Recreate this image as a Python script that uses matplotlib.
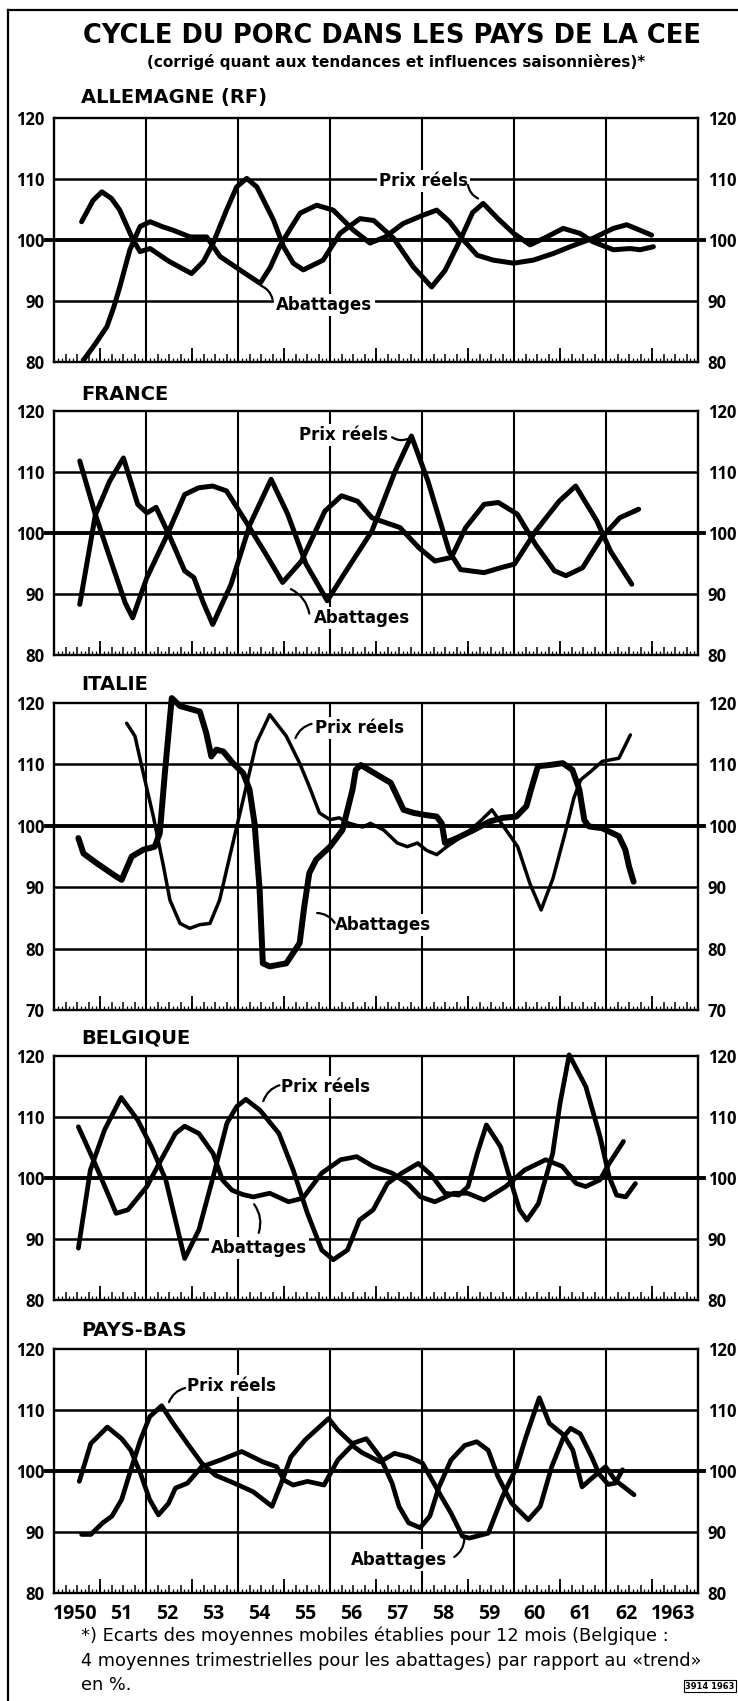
import matplotlib
matplotlib.use("Agg")
import matplotlib.pyplot as plt
from matplotlib.ticker import MultipleLocator
from matplotlib.lines import Line2D

W, H = 738, 1701

# ---- data (index, trend = 100) ----
# ALLEMAGNE (RF)
de_prix_x = [1950.60, 1950.85, 1951.04, 1951.25, 1951.43, 1951.72, 1951.87, 1952.09, 1952.5, 1952.99,
             1953.25, 1953.46, 1953.75, 1953.97, 1954.19, 1954.41, 1954.77, 1954.99, 1955.2, 1955.42,
             1955.85, 1956.22, 1956.65, 1956.95, 1957.38, 1957.81, 1958.21, 1958.5, 1958.83, 1959.1,
             1959.33, 1959.65, 1959.99, 1960.35, 1960.71, 1961.07, 1961.43, 1961.72, 1962.16, 1962.52,
             1962.74, 1963.03]
de_prix_y = [103.0, 106.5, 107.9, 106.8, 104.9, 100.0, 98.1, 98.6, 96.5, 94.5,
             96.5, 99.5, 104.9, 108.7, 110.1, 108.7, 103.3, 98.9, 96.2, 95.1,
             96.7, 101.1, 103.5, 103.2, 100.3, 95.6, 92.3, 95.0, 100.0, 104.5,
             106.0, 103.5, 101.1, 99.2, 100.5, 101.9, 101.1, 99.7, 98.4, 98.6,
             98.4, 98.9]
de_abat_x = [1950.64, 1950.9, 1951.15, 1951.3, 1951.43, 1951.65, 1951.87, 1952.09, 1952.35, 1952.59,
             1952.96, 1953.32, 1953.61, 1954.04, 1954.48, 1954.7, 1954.91, 1955.15, 1955.35, 1955.71,
             1956.07, 1956.51, 1956.87, 1957.2, 1957.59, 1958.0, 1958.32, 1958.6, 1958.9, 1959.2,
             1959.55, 1959.99, 1960.42, 1960.86, 1961.22, 1961.72, 1962.16, 1962.45, 1962.74, 1962.99]
de_abat_y = [80.3, 83.0, 85.8, 89.0, 92.3, 98.4, 102.2, 103.0, 102.2, 101.6,
             100.5, 100.5, 97.3, 95.1, 92.9, 95.5, 99.0, 102.0, 104.4, 105.7,
             104.9, 101.6, 99.5, 100.5, 102.7, 104.0, 104.9, 103.0, 100.0, 97.5,
             96.7, 96.2, 96.7, 97.8, 98.9, 100.3, 101.9, 102.5, 101.6, 100.8]

# FRANCE
fr_prix_x = [1950.56, 1950.9, 1951.21, 1951.51, 1951.82, 1952.02, 1952.22, 1952.53, 1952.84, 1953.04,
             1953.25, 1953.45, 1953.85, 1954.26, 1954.72, 1955.08, 1955.48, 1955.94, 1956.3, 1956.91,
             1957.42, 1957.77, 1958.13, 1958.59, 1958.84, 1959.35, 1959.71, 1960.01, 1960.47, 1960.98,
             1961.34, 1961.8, 1962.1, 1962.56]
fr_prix_y = [88.3, 103.0, 108.5, 112.3, 104.7, 103.3, 104.2, 99.2, 93.8, 92.7,
             88.5, 85.0, 91.6, 101.4, 108.8, 103.1, 94.9, 88.9, 93.2, 100.3,
             110.2, 115.9, 108.5, 97.0, 94.0, 93.5, 94.3, 94.9, 100.3, 105.2,
             107.7, 102.0, 97.0, 91.6]
fr_abat_x = [1950.56, 1950.9, 1951.31, 1951.55, 1951.71, 1952.02, 1952.43, 1952.84, 1953.14, 1953.45,
             1953.75, 1954.16, 1954.57, 1954.97, 1955.38, 1955.89, 1956.25, 1956.6, 1956.91, 1957.21,
             1957.52, 1957.93, 1958.28, 1958.64, 1958.95, 1959.35, 1959.66, 1960.07, 1960.47, 1960.88,
             1961.13, 1961.49, 1961.9, 1962.3, 1962.71]
fr_abat_y = [111.8, 103.0, 93.8, 88.5, 86.1, 92.7, 99.2, 106.3, 107.4, 107.7,
             106.9, 102.0, 97.0, 91.9, 95.4, 103.6, 106.1, 105.2, 102.5, 101.7,
             100.9, 97.6, 95.4, 96.0, 100.9, 104.7, 105.0, 103.1, 98.1, 93.8,
             93.0, 94.3, 99.2, 102.5, 103.9]

# ITALIE
it_prix_x = [1951.58, 1951.76, 1951.94, 1952.16, 1952.38, 1952.52, 1952.74, 1952.95, 1953.17, 1953.39,
             1953.6, 1953.82, 1954.11, 1954.4, 1954.69, 1955.05, 1955.34, 1955.55, 1955.77, 1956.0,
             1956.2, 1956.42, 1956.71, 1956.88, 1957.17, 1957.46, 1957.68, 1957.9, 1958.1, 1958.32,
             1958.54, 1958.97, 1959.26, 1959.52, 1960.08, 1960.35, 1960.59, 1960.85, 1961.1, 1961.3,
             1961.45, 1961.63, 1961.92, 1962.28, 1962.53]
it_prix_y = [116.7, 114.6, 108.6, 101.5, 93.4, 87.9, 84.1, 83.3, 83.9, 84.1,
             87.9, 95.0, 104.2, 113.5, 118.1, 114.6, 110.2, 106.4, 102.1, 101.0,
             101.3, 100.4, 99.8, 100.4, 99.3, 97.2, 96.6, 97.2, 96.0, 95.3,
             96.6, 98.8, 100.7, 102.6, 96.6, 90.5, 86.3, 91.5, 98.5, 104.5,
             107.5, 108.6, 110.5, 111.0, 114.8]
it_abat_x = [1950.53, 1950.64, 1950.93, 1951.36, 1951.47, 1951.69, 1951.94, 1952.19, 1952.3, 1952.41,
             1952.56, 1952.74, 1953.17, 1953.31, 1953.42, 1953.53, 1953.68, 1953.89, 1954.11, 1954.25,
             1954.36, 1954.47, 1954.54, 1954.69, 1955.05, 1955.34, 1955.44, 1955.55, 1955.7, 1956.0,
             1956.27, 1956.49, 1956.56, 1956.67, 1956.96, 1957.32, 1957.46, 1957.6, 1957.82, 1958.04,
             1958.32, 1958.43, 1958.5, 1958.76, 1959.12, 1959.47, 1959.76, 1960.05, 1960.27, 1960.37,
             1960.52, 1960.77, 1961.06, 1961.27, 1961.42, 1961.53, 1961.63, 1961.92, 1962.28, 1962.42,
             1962.5, 1962.6]
it_abat_y = [98.0, 95.5, 93.9, 91.7, 91.2, 95.0, 96.1, 96.6, 98.8, 108.6,
             120.8, 119.5, 118.6, 115.1, 111.3, 112.4, 112.1, 110.2, 108.6, 105.9,
             100.4, 89.6, 77.6, 77.1, 77.6, 80.9, 86.8, 92.3, 94.5, 96.6,
             99.3, 105.9, 109.1, 109.9, 108.6, 107.0, 104.8, 102.6, 102.1, 101.8,
             101.5, 100.4, 97.2, 98.0, 99.3, 100.7, 101.3, 101.5, 103.2, 105.9,
             109.7, 109.9, 110.2, 109.1, 105.9, 100.9, 99.9, 99.6, 98.3, 96.1,
             93.4, 90.9]

# BELGIQUE
be_prix_x = [1950.53, 1950.79, 1951.1, 1951.46, 1951.82, 1952.12, 1952.43, 1952.64, 1952.84, 1953.15,
             1953.46, 1953.76, 1953.97, 1954.17, 1954.48, 1954.89, 1955.2, 1955.51, 1955.82, 1956.07,
             1956.38, 1956.64, 1956.94, 1957.25, 1957.56, 1957.92, 1958.2, 1958.5, 1958.8, 1959.0,
             1959.2, 1959.4, 1959.71, 1959.92, 1960.12, 1960.28, 1960.53, 1960.84, 1961.0, 1961.2,
             1961.56, 1961.87, 1962.07, 1962.23, 1962.43, 1962.64]
be_prix_y = [88.5, 101.3, 107.9, 113.2, 109.5, 105.1, 99.7, 93.1, 86.8, 91.5,
             100.2, 109.0, 111.7, 112.9, 111.1, 107.3, 101.3, 94.2, 88.2, 86.6,
             88.2, 93.1, 94.8, 99.1, 100.8, 102.4, 100.5, 97.5, 97.2, 98.6,
             104.0, 108.7, 105.1, 99.7, 94.8, 93.1, 95.8, 104.0, 112.2, 120.2,
             115.0, 106.8, 100.2, 97.2, 96.9, 99.1]
be_abat_x = [1950.53, 1950.89, 1951.2, 1951.35, 1951.61, 1952.02, 1952.33, 1952.64, 1952.84, 1953.15,
             1953.46, 1953.66, 1953.87, 1954.1, 1954.33, 1954.69, 1955.1, 1955.41, 1955.82, 1956.23,
             1956.58, 1956.94, 1957.35, 1957.7, 1957.97, 1958.28, 1958.69, 1958.99, 1959.35, 1959.82,
             1960.23, 1960.69, 1961.05, 1961.35, 1961.56, 1961.87, 1962.07, 1962.38]
be_abat_y = [108.4, 102.4, 96.9, 94.2, 94.8, 98.6, 103.0, 107.3, 108.5, 107.3,
             104.0, 99.7, 98.0, 97.3, 96.9, 97.5, 96.1, 96.7, 100.8, 103.0,
             103.5, 101.9, 100.8, 99.0, 96.9, 96.1, 97.5, 97.5, 96.4, 98.6,
             101.3, 103.0, 101.9, 99.1, 98.6, 99.7, 102.4, 106.0]

# PAYS-BAS
nl_prix_x = [1950.6, 1950.8, 1951.06, 1951.26, 1951.47, 1951.67, 1951.88, 1952.08, 1952.34, 1952.59,
             1952.9, 1953.21, 1953.51, 1953.92, 1954.33, 1954.74, 1954.94, 1955.15, 1955.46, 1955.97,
             1956.17, 1956.48, 1956.79, 1957.09, 1957.35, 1957.5, 1957.71, 1957.96, 1958.17, 1958.37,
             1958.63, 1958.93, 1959.19, 1959.44, 1959.65, 1959.95, 1960.31, 1960.57, 1960.82, 1961.08,
             1961.23, 1961.44, 1961.69, 1961.85, 1962.05, 1962.2, 1962.36]
nl_prix_y = [89.6, 89.6, 91.5, 92.6, 95.3, 100.2, 105.1, 108.9, 110.7, 107.8,
             104.5, 101.3, 99.3, 98.0, 96.6, 94.2, 98.0, 102.3, 105.1, 108.6,
             106.7, 104.5, 105.3, 102.3, 98.0, 94.2, 91.5, 90.7, 92.6, 97.4,
             101.8, 104.2, 104.8, 103.4, 99.1, 94.7, 92.0, 94.2, 100.7, 105.6,
             107.0, 106.1, 102.3, 99.5, 97.8, 98.0, 100.2]
nl_abat_x = [1950.55, 1950.8, 1951.16, 1951.47, 1951.67, 1951.88, 1952.08, 1952.27, 1952.49, 1952.64,
             1952.9, 1953.21, 1953.62, 1954.08, 1954.54, 1954.84, 1955.0, 1955.2, 1955.51, 1955.87,
             1956.17, 1956.48, 1956.7, 1957.09, 1957.4, 1957.71, 1958.01, 1958.22, 1958.42, 1958.63,
             1958.88, 1959.03, 1959.44, 1959.75, 1960.06, 1960.26, 1960.55, 1960.77, 1961.08, 1961.28,
             1961.48, 1961.69, 1961.99, 1962.2, 1962.61]
nl_abat_y = [98.3, 104.5, 107.2, 105.3, 103.4, 99.6, 95.3, 92.8, 94.7, 97.2,
             98.0, 100.7, 101.8, 103.2, 101.5, 100.7, 98.5, 97.7, 98.3, 97.7,
             101.8, 104.2, 103.0, 101.5, 102.9, 102.3, 101.3, 98.5, 95.8, 93.1,
             89.3, 89.0, 89.8, 95.8, 100.7, 105.6, 112.0, 107.8, 105.9, 103.4,
             97.4, 98.8, 100.7, 98.5, 96.1]

year_ticks = list(range(1950, 1964))
year_labels = ["1950", "51", "52", "53", "54", "55", "56", "57", "58", "59", "60", "61", "62", "1963"]

title = "CYCLE DU PORC DANS LES PAYS DE LA CEE"
subtitle = "(corrigé quant aux tendances et influences saisonnières)*"
footnote = ["*) Ecarts des moyennes mobiles établies pour 12 mois (Belgique :",
            "4 moyennes trimestrielles pour les abattages) par rapport au «trend»",
            "en %."]

BOLD = dict(fontweight="bold", color="black")
NARROW = ["Open Sans", "DejaVu Sans"]

fig = plt.figure(figsize=(W / 100, H / 100), dpi=100)


def fx(px):
    return px / W


def fy(py):
    return 1 - py / H


def panel(top, bottom, name, name_y, prix, abat, ymin, lw_prix, lw_abat, lab_prix, lab_abat, last=False):
    ax = fig.add_axes([fx(54), fy(bottom), fx(698) - fx(54), fy(top) - fy(bottom)])
    ax.set_xlim(1950, 1964)
    ax.set_ylim(ymin, 120)
    for s in ax.spines.values():
        s.set_linewidth(1.7)
    yt = list(range(ymin, 121, 10))
    ax.set_yticks(yt)
    ax.set_yticklabels([str(v) for v in yt], family=NARROW, fontweight="bold", fontsize=12)
    ax.tick_params(axis="y", length=0, pad=7, labelleft=True, labelright=True)
    for v in yt[1:-1]:
        if v == 100:
            ax.axhline(v, xmin=-0.012, xmax=1.01, color="k", lw=2.8, zorder=1, clip_on=False)
        else:
            ax.axhline(v, color="k", lw=1.8, zorder=1)
    for yr in range(1952, 1963, 2):
        ax.axvline(yr, color="k", lw=1.5, zorder=1)

    # bottom tick ruler: months, quarters, years
    ax.xaxis.set_major_locator(MultipleLocator(0.25))
    ax.xaxis.set_minor_locator(MultipleLocator(1 / 12))
    ax.tick_params(axis="x", which="major", direction="in", length=6, width=1.1, labelbottom=False)
    ax.tick_params(axis="x", which="minor", direction="in", length=3, width=0.9)
    sec = ax.secondary_xaxis("bottom")
    sec.set_xticks(year_ticks[1:])
    sec.tick_params(direction="in", length=10, width=1.3, labelbottom=False)
    sec.spines["bottom"].set_visible(False)

    ax.plot(prix[0], prix[1], color="k", lw=lw_prix, solid_capstyle="round",
            solid_joinstyle="round", zorder=3, clip_on=False)
    ax.plot(abat[0], abat[1], color="k", lw=lw_abat, solid_capstyle="round",
            solid_joinstyle="round", zorder=3, clip_on=False)

    for (tx, ty), (sx, sy), (px, py), txt in (lab_prix + ("Prix réels",), lab_abat + ("Abattages",)):
        ax.text(tx, ty, txt, ha="center", va="center", fontsize=12, zorder=4, **BOLD,
                bbox=dict(facecolor="white", edgecolor="none", pad=1.5))
        ax.annotate("", xy=(px, py), xytext=(sx, sy),
                    arrowprops=dict(arrowstyle="-", lw=1.6, color="k", shrinkA=0, shrinkB=0,
                                    connectionstyle="arc3,rad=0.25"), zorder=4)

    fig.text(fx(81), fy(name_y), name, ha="left", va="center", fontsize=14, **BOLD)

    if last:
        lab = ax.secondary_xaxis("bottom")
        lab.set_xticks([y + 0.45 for y in year_ticks])
        lab.set_xticklabels(year_labels, family=NARROW, fontweight="bold", fontsize=14)
        lab.tick_params(length=0, pad=8)
        lab.spines["bottom"].set_visible(False)
    return ax


panel(118, 362, "ALLEMAGNE (RF)", 97, (de_prix_x, de_prix_y), (de_abat_x, de_abat_y), 80, 3.6, 3.6,
      ((1958.03, 109.6), (1959.0, 109.0), (1959.22, 106.8)),
      ((1955.88, 89.3), (1954.75, 90.3), (1954.5, 92.5)))
panel(411, 655, "FRANCE", 394, (fr_prix_x, fr_prix_y), (fr_abat_x, fr_abat_y), 80, 3.6, 3.6,
      ((1956.3, 116.0), (1957.35, 115.7), (1957.68, 115.4)),
      ((1956.7, 86.0), (1955.55, 86.8), (1955.15, 90.8)))
panel(703, 1010, "ITALIE", 685, (it_prix_x, it_prix_y), (it_abat_x, it_abat_y), 70, 2.5, 4.3,
      ((1956.65, 115.9), (1955.6, 116.6), (1955.25, 114.3)),
      ((1957.15, 83.8), (1956.1, 84.2), (1955.72, 85.8)))
panel(1056, 1300, "BELGIQUE", 1038, (be_prix_x, be_prix_y), (be_abat_x, be_abat_y), 80, 3.4, 3.4,
      ((1955.9, 115.0), (1954.9, 115.2), (1954.55, 112.6)),
      ((1954.45, 88.6), (1954.45, 91.0), (1954.35, 95.7)))
panel(1349, 1593, "PAYS-BAS", 1330, (nl_prix_x, nl_prix_y), (nl_abat_x, nl_abat_y), 80, 3.4, 3.4,
      ((1953.85, 113.9), (1952.85, 113.6), (1952.5, 111.3)),
      ((1957.5, 85.4), (1958.7, 85.9), (1958.92, 88.8)), last=True)

fig.text(fx(392), fy(36), title, ha="center", va="center", fontsize=18.5, **BOLD)
fig.text(fx(396), fy(62), subtitle, ha="center", va="center", fontsize=11, **BOLD)
for i, line in enumerate(footnote):
    fig.text(fx(81), fy(1636 + 24.5 * i), line, ha="left", va="center", fontsize=12.8, color="black")
fig.text(fx(710), fy(1686), "3914 1963", ha="center", va="center", fontsize=6, **BOLD,
         bbox=dict(facecolor="white", edgecolor="black", lw=0.8, pad=1.2))

# outer frame of the page
fig.add_artist(Line2D([fx(8), fx(8)], [0, fy(10)], color="k", lw=1.6))
fig.add_artist(Line2D([fx(8), 1], [fy(10), fy(10)], color="k", lw=1.6))

fig.savefig("out.png", dpi=100)
